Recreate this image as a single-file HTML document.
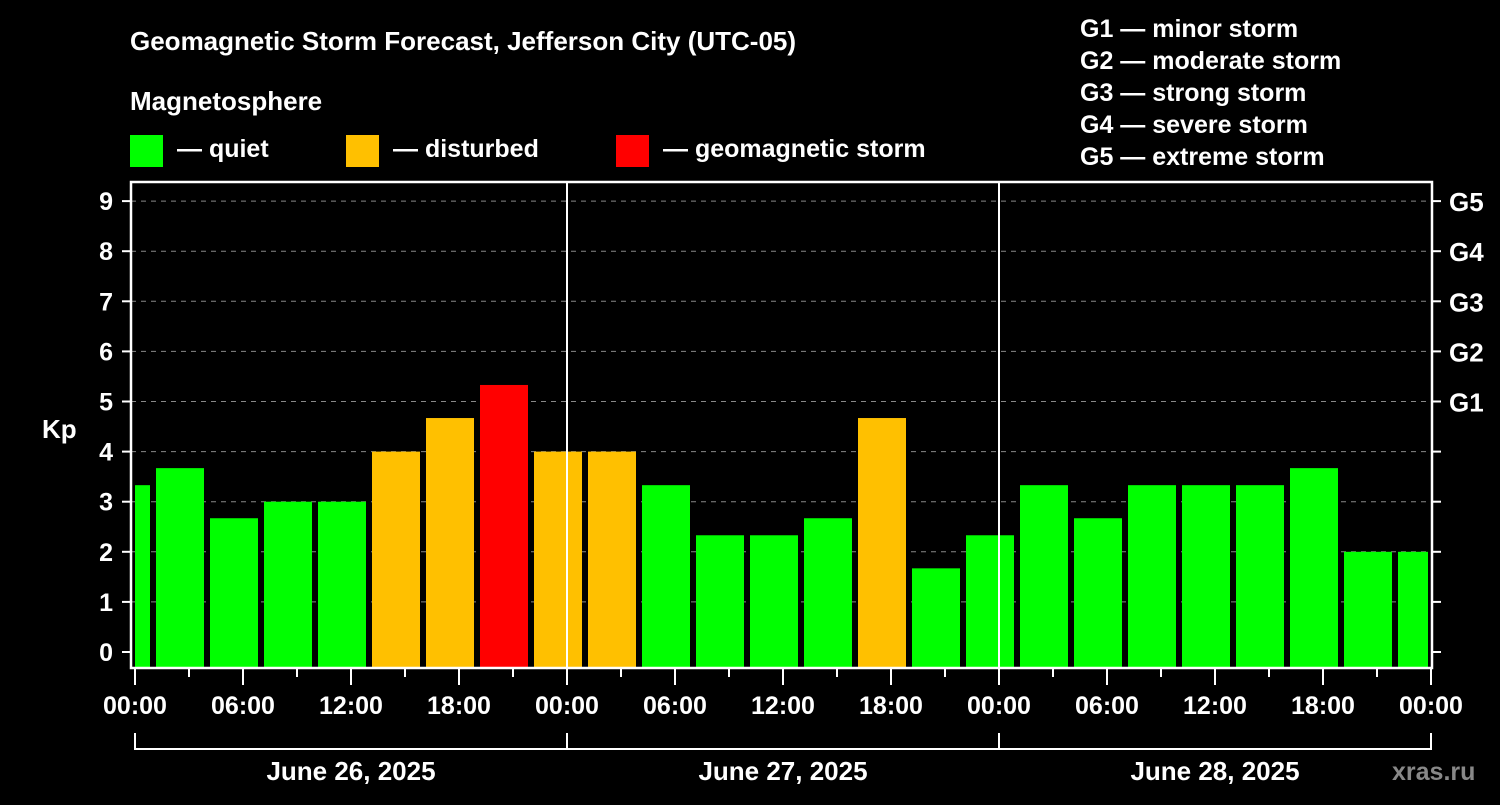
<!DOCTYPE html>
<html><head><meta charset="utf-8"><style>
body{margin:0;background:#000;width:1500px;height:800px;overflow:hidden}
svg text{font-family:"Liberation Sans",Arial,sans-serif;font-weight:bold;fill:#fff}
</style></head><body>
<svg id="chart" width="1500" height="800" xmlns="http://www.w3.org/2000/svg">
<rect width="1500" height="800" fill="#000"/>
<text x="130" y="50" font-size="26">Geomagnetic Storm Forecast, Jefferson City (UTC-05)</text>
<text x="130" y="110" font-size="26">Magnetosphere</text>
<g><rect x="130" y="135" width="33" height="32" fill="#00ff00"/><text x="177" y="157" font-size="25">— quiet</text></g>
<g><rect x="346" y="135" width="33" height="32" fill="#ffc000"/><text x="393" y="157" font-size="25">— disturbed</text></g>
<g><rect x="616" y="135" width="33" height="32" fill="#ff0000"/><text x="663" y="157" font-size="25">— geomagnetic storm</text></g>
<g font-size="25">
<text x="1080" y="37">G1 — minor storm</text>
<text x="1080" y="69">G2 — moderate storm</text>
<text x="1080" y="101">G3 — strong storm</text>
<text x="1080" y="133">G4 — severe storm</text>
<text x="1080" y="165">G5 — extreme storm</text>
</g>
<text x="42" y="438" font-size="26">Kp</text>
<text x="1392" y="780" font-size="25" fill="#888" style="fill:#888">xras.ru</text>
<g id="grid"></g>
<g id="bars"></g>
<g id="axes"></g>
</svg>
<script>
const kpValues=[3.33,3.67,2.67,3,3,4,4.67,5.33,4,4,3.33,2.33,2.33,2.67,4.67,1.67,2.33,3.33,2.67,3.33,3.33,3.33,3.67,2,2];
const barHours=[-0.5,2.5,5.5,8.5,11.5,14.5,17.5,20.5,23.5,26.5,29.5,32.5,35.5,38.5,41.5,44.5,47.5,50.5,53.5,56.5,59.5,62.5,65.5,68.5,71.5];
const yTicks=[0,1,2,3,4,5,6,7,8,9];
const gLabels=["G1","G2","G3","G4","G5"];
const gLevels=[5,6,7,8,9];
const xTickLabels=["00:00","06:00","12:00","18:00","00:00","06:00","12:00","18:00","00:00","06:00","12:00","18:00","00:00"];
const dayLabels=["June 26, 2025","June 27, 2025","June 28, 2025"];
const NS="http://www.w3.org/2000/svg";
const X0=135,PXH=18,Y0=652,PXK=50.1,L=131,R=1432,T=182,B=668;
const xs=h=>X0+h*PXH, ys=k=>Y0-k*PXK;
function mk(tag,attrs,parent,txt){const e=document.createElementNS(NS,tag);for(const k in attrs)e.setAttribute(k,attrs[k]);if(txt!=null)e.textContent=txt;document.getElementById(parent).appendChild(e);return e;}
yTicks.forEach(k=>{if(k>0){const l=mk('line',{x1:L,x2:R,y1:ys(k),y2:ys(k),stroke:'#888','stroke-dasharray':'5,5','stroke-width':1},'grid');

}});
kpValues.forEach((v,i)=>{const c=barHours[i]*PXH+X0;let x1=c-24,x2=c+24;x1=Math.max(x1,X0);x2=Math.min(x2,1428);
const col=v>=5?'#ff0000':(v>=4?'#ffc000':'#00ff00');
const r=mk('rect',{x:x1,y:ys(v),width:x2-x1,height:B-ys(v),fill:col},'bars');

});
[1,2].forEach(d=>{const l=mk('line',{x1:xs(d*24),x2:xs(d*24),y1:T,y2:B,stroke:'#fff','stroke-width':2},'axes');

});
const fr=mk('rect',{x:L,y:T,width:R-L,height:B-T,fill:'none',stroke:'#fff','stroke-width':2.5},'axes');


yTicks.forEach(k=>{const y=ys(k);
mk('line',{x1:122,x2:L,y1:y,y2:y,stroke:'#fff','stroke-width':2},'axes');
mk('line',{x1:R,x2:R+9,y1:y,y2:y,stroke:'#fff','stroke-width':2},'axes');
const t=mk('text',{x:113,y:y+9,'font-size':25,'text-anchor':'end'},'axes',k);

});
gLevels.forEach((k,i)=>{const t=mk('text',{x:1449,y:ys(k)+10,'font-size':26},'axes',gLabels[i]);

});
for(let h=0;h<=72;h+=3){const major=h%6==0;mk('line',{x1:xs(h),x2:xs(h),y1:B,y2:major?685:677,stroke:'#fff','stroke-width':2},'axes');}
xTickLabels.forEach((s,i)=>{const t=mk('text',{x:xs(i*6),y:714,'font-size':25,'text-anchor':'middle'},'axes',s);

});
mk('path',{d:`M${xs(0)},733V749H${xs(72)}V733M${xs(24)},733V749M${xs(48)},733V749`,fill:'none',stroke:'#fff','stroke-width':2},'axes');
dayLabels.forEach((s,i)=>{const t=mk('text',{x:xs(i*24+12),y:780,'font-size':26,'text-anchor':'middle'},'axes',s);

});
</script>
</body></html>
